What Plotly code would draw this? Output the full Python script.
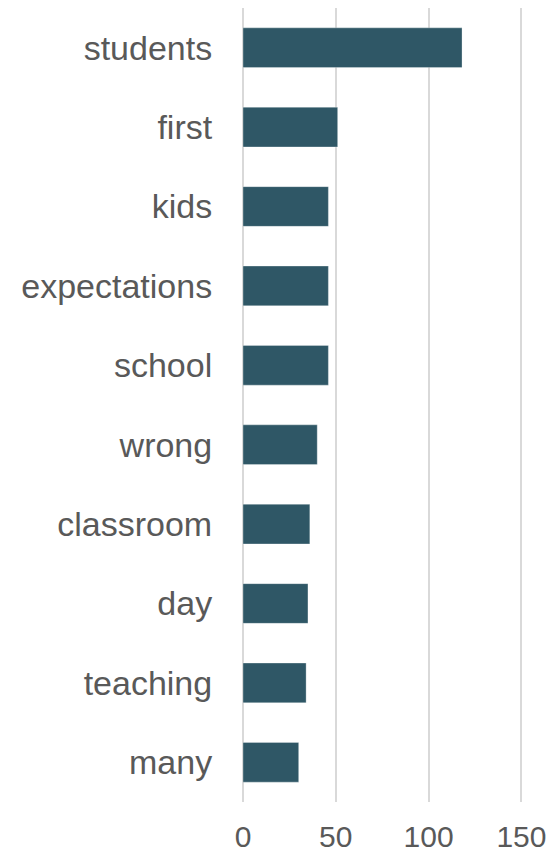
import plotly.graph_objects as go

words = ["students", "first", "kids", "expectations", "school", "wrong",
         "classroom", "day", "teaching", "many"]
counts = [118, 51, 46, 46, 46, 40, 36, 35, 34, 30]
x_ticks = [0, 50, 100, 150]

fig = go.Figure(go.Bar(
    x=counts, y=words, orientation="h",
    marker=dict(color="#2f5766", line=dict(color="rgba(255,255,255,0.5)", width=0.6)),
    width=0.5,
))

font = "Liberation Sans, Arial, sans-serif"
fig.update_layout(
    width=552, height=846,
    margin=dict(l=235, r=10, t=0, b=52),
    plot_bgcolor="white", paper_bgcolor="white",
    showlegend=False,
    font=dict(family=font, color="#595959"),
    xaxis=dict(
        range=[0, 165.4], tickvals=x_ticks, showgrid=True, automargin=False,
        gridcolor="#d9d9d9", gridwidth=1.5, zeroline=True,
        zerolinecolor="#d9d9d9", zerolinewidth=1.5,
        ticks="outside", ticklen=8, tickcolor="rgba(0,0,0,0)",
        tickfont=dict(size=30, color="#595959"), showline=False,
    ),
    yaxis=dict(
        categoryorder="array", categoryarray=words[::-1], automargin=False,
        showgrid=False, zeroline=False, showline=False,
        ticks="outside", ticklen=23, tickcolor="rgba(0,0,0,0)",
        tickfont=dict(size=34, color="#595959"),
    ),
)

fig.write_html("out.html")
